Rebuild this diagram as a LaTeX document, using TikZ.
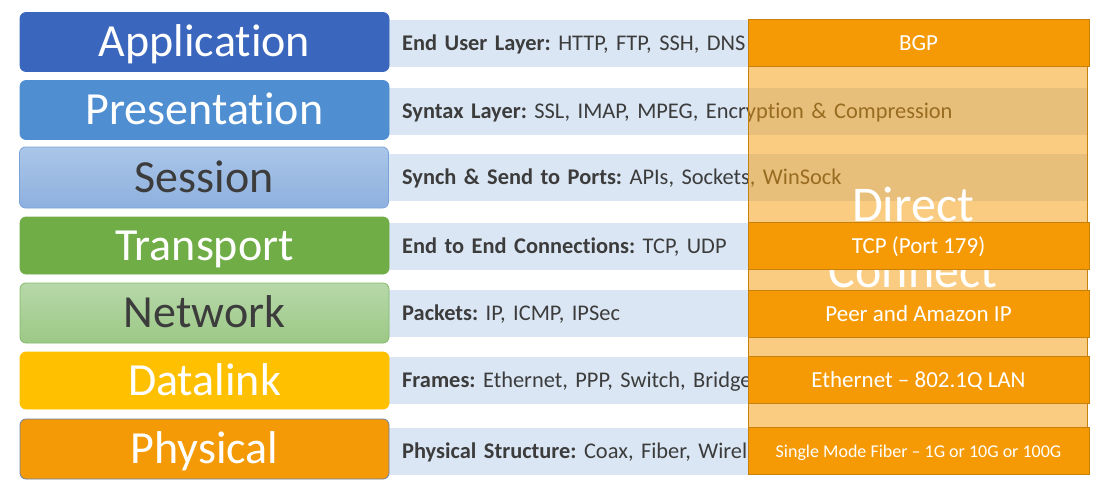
\documentclass[tikz,border=0pt]{standalone}
\usepackage{fontspec}
\setmainfont[Ligatures=NoCommon]{Carlito}
\definecolor{appblue}{HTML}{3A66BD}
\definecolor{presblue}{HTML}{4F8FD1}
\definecolor{sesstop}{HTML}{AAC6E8}
\definecolor{sessbot}{HTML}{8EB0DF}
\definecolor{sessline}{HTML}{7AA3DA}
\definecolor{transgreen}{HTML}{70AD47}
\definecolor{nettop}{HTML}{B7D8A9}
\definecolor{netbot}{HTML}{9CC886}
\definecolor{netline}{HTML}{84BA6C}
\definecolor{datayellow}{HTML}{FFC000}
\definecolor{physorange}{HTML}{F39A06}
\definecolor{physline}{HTML}{6B80A8}
\definecolor{bandblue}{HTML}{DAE6F3}
\definecolor{dxorange}{HTML}{F59A05}
\definecolor{dxline}{HTML}{C8800C}
\definecolor{txtgray}{HTML}{3C3C3C}
\frenchspacing
\begin{document}
\begin{tikzpicture}[x=1pt,y=-1pt,
  layerbox/.style={rounded corners=6pt, minimum width=369pt, minimum height=59pt,
    inner sep=0pt, line width=0.8pt, text height=29pt, text depth=0pt,
    font=\fontsize{46}{54}\selectfont},
  band/.style={fill=bandblue, anchor=west, text width=672pt, inner xsep=14pt,
    inner ysep=0pt, minimum height=47pt, align=left, text=txtgray,
    text height=14pt, text depth=0pt, font=\fontsize{22.4}{26}\selectfont},
  dxbox/.style={fill=dxorange, draw=dxline, line width=0.9pt, minimum width=341pt,
    minimum height=47pt, inner sep=0pt, text=white, text height=15pt, text depth=0pt,
    font=\fontsize{23}{26}\selectfont},
  dxtitle/.style={anchor=base, text=white, inner sep=0pt, font=\fontsize{50}{56}\selectfont}]
\useasboundingbox (0,0) rectangle (1102,490);

% description bands behind each layer
\node[band] (b1) at (388,43)    {\textbf{End User Layer:} HTTP, FTP, SSH, DNS};
\node[band] (b2) at (388,111.5) {\textbf{Syntax Layer:} SSL, IMAP, MPEG, Encryption \& Compression};
\node[band] (b3) at (388,177)   {\textbf{Synch \& Send to Ports:} APIs, Sockets, WinSock};
\node[band] (b4) at (388,246)   {\textbf{End to End Connections:} TCP, UDP};
\node[band] (b5) at (388,313.5) {\textbf{Packets:} IP, ICMP, IPSec};
\node[band] (b6) at (388,380.5) {\textbf{Frames:} Ethernet, PPP, Switch, Bridge};
\node[band] (b7) at (388,451)   {\textbf{Physical Structure:} Coax, Fiber, Wireless};

% OSI layer boxes
\node[layerbox, fill=appblue, draw=appblue, text=white] (l1) at (204.5,42) {Application};
\node[layerbox, fill=presblue, draw=presblue, text=white] (l2) at (204.5,110) {Presentation};
\node[layerbox, top color=sesstop, bottom color=sessbot, draw=sessline, text=txtgray, minimum height=61pt] (l3) at (204,177.5) {Session};
\node[layerbox, fill=transgreen, draw=transgreen, text=white, minimum height=57pt] (l4) at (204.5,245.5) {Transport};
\node[layerbox, top color=nettop, bottom color=netbot, draw=netline, text=txtgray, minimum height=60pt] (l5) at (204.5,313) {Network};
\node[layerbox, fill=datayellow, draw=datayellow, text=white, minimum height=57pt] (l6) at (204.5,380.5) {Datalink};
\node[layerbox, fill=physorange, draw=physline, text=white, minimum height=60pt] (l7) at (204.5,449) {Physical};

% translucent Direct Connect column
\node[fill=dxorange, fill opacity=0.5, draw=dxline, draw opacity=1, line width=0.9pt,
  minimum width=339pt, minimum height=455pt, inner sep=0pt] (col) at (917.5,246.5) {};
\node[dxtitle] (dc1) at (913,221) {Direct};
\node[dxtitle] (dc2) at (913,287) {Connect};

% Direct Connect protocol boxes
\node[dxbox] (x1) at (918.5,43)  {BGP};
\node[dxbox] (x4) at (918.5,245.5) {TCP (Port 179)};
\node[dxbox] (x5) at (918.5,314) {Peer and Amazon IP};
\node[dxbox] (x6) at (918.5,380) {Ethernet – 802.1Q LAN};
\node[dxbox, font=\fontsize{18}{20}\selectfont, text height=12pt] (x7) at (918.5,451) {Single Mode Fiber – 1G or 10G or 100G};
\end{tikzpicture}
\end{document}
